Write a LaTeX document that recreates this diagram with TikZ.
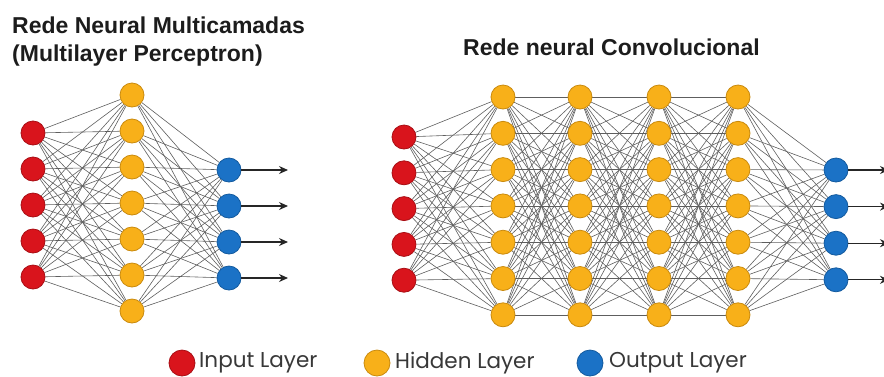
\documentclass[tikz,border=0pt]{standalone}
\usepackage{fontspec}
\setmainfont{Liberation Sans}
\newfontfamily\legendfont{Poppins}
\usetikzlibrary{arrows.meta,backgrounds}

\definecolor{inred}{HTML}{D9141C}
\definecolor{inredline}{HTML}{A80E14}
\definecolor{hidorange}{HTML}{F8B019}
\definecolor{hidorangeline}{HTML}{C98A0E}
\definecolor{outblue}{HTML}{1B72C6}
\definecolor{outblueline}{HTML}{135A9E}
\definecolor{linkgray}{HTML}{5E5E5E}
\definecolor{titleblack}{HTML}{1C1C1C}

\begin{document}
\begin{tikzpicture}[x=1pt,y=-1pt,
  neuron/.style={circle,line width=0.8pt,minimum size=24pt,inner sep=0pt},
  inneuron/.style={neuron,fill=inred,draw=inredline},
  hidneuron/.style={neuron,fill=hidorange,draw=hidorangeline},
  outneuron/.style={neuron,fill=outblue,draw=outblueline},
  link/.style={draw=linkgray,line width=0.6pt},
  outarrow/.style={-{Stealth[length=9pt,width=8pt]},line width=1.2pt,draw=black!85},
  title/.style={font=\bfseries\fontsize{23}{28}\selectfont,text=titleblack,inner sep=0pt},
  legendtext/.style={font=\legendfont\fontsize{21.5}{24}\selectfont,text=black!78,anchor=west,inner sep=0pt}]

\useasboundingbox (0,0) rectangle (884,376);

% titles
\node[title,anchor=north west,align=left] (mlptitle) at (12,17) {Rede Neural Multicamadas\\(Multilayer Perceptron)};
\node[title,anchor=base west] (cnntitle) at (463,55) {Rede neural Convolucional};

% multilayer perceptron
\foreach \i in {1,...,5}
  \node[inneuron] (mi\i) at (33,{133+36*(\i-1)}) {};
\foreach \j in {1,...,7}
  \node[hidneuron] (mh\j) at (132,{95+36*(\j-1)}) {};
\foreach \k in {1,...,4} {
  \node[outneuron] (mo\k) at (229,{170+36*(\k-1)}) {};
  \coordinate (mend\k) at (288,{170+36*(\k-1)});
  \draw[outarrow] (mo\k) -- (mend\k);
}
\begin{scope}[on background layer]
  \foreach \i in {1,...,5}
    \foreach \j in {1,...,7}
      \draw[link] (mi\i) -- (mh\j);
  \foreach \j in {1,...,7}
    \foreach \k in {1,...,4}
      \draw[link] (mh\j) -- (mo\k);
\end{scope}

% convolutional net
\foreach \i in {1,...,5}
  \node[inneuron] (ci\i) at (404,{137+35.8*(\i-1)}) {};
\foreach \c/\x in {1/503,2/580,3/659,4/738}
  \foreach \j in {1,...,7}
    \node[hidneuron] (ch\c-\j) at (\x,{97+36.3*(\j-1)}) {};
\foreach \k in {1,...,4} {
  \node[outneuron] (co\k) at (836,{170+36.6*(\k-1)}) {};
  \coordinate (cend\k) at (889,{170+36.6*(\k-1)});
  \draw[outarrow] (co\k) -- (cend\k);
}
\begin{scope}[on background layer]
  \foreach \i in {1,...,5}
    \foreach \j in {1,...,7}
      \draw[link] (ci\i) -- (ch1-\j);
  \foreach \c/\n in {1/2,2/3,3/4}
    \foreach \j in {1,...,7}
      \foreach \m in {1,...,7}
        \draw[link] (ch\c-\j) -- (ch\n-\m);
  \foreach \j in {1,...,7}
    \foreach \k in {1,...,4}
      \draw[link] (ch4-\j) -- (co\k);
\end{scope}

% legend
\node[inneuron,minimum size=26pt] (leginput) at (182,363) {};
\node[legendtext] (leginputtext) at (199,363) {Input Layer};
\node[hidneuron,minimum size=26pt] (leghidden) at (377,363) {};
\node[legendtext] (leghiddentext) at (395,363) {Hidden Layer};
\node[outneuron,minimum size=26pt] (legoutput) at (590,363) {};
\node[legendtext] (legoutputtext) at (609,363) {Output Layer};
\end{tikzpicture}
\end{document}
